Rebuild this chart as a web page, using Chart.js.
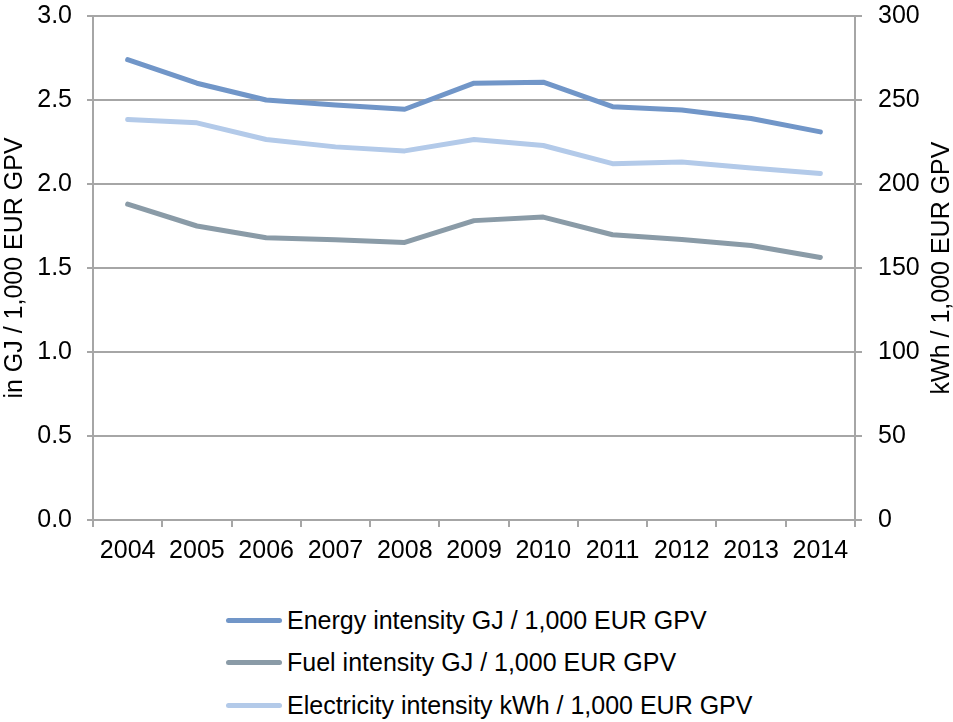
<!DOCTYPE html>
<html>
<head>
<meta charset="utf-8">
<script src="https://cdn.jsdelivr.net/npm/chart.js@4/dist/chart.umd.min.js"></script>
<style>
  html, body { margin: 0; padding: 0; background: #fff; }
  #wrap { position: relative; width: 953px; height: 722px; font-family: "Liberation Sans", Arial, sans-serif; }
  #box { position: absolute; left: 0; top: 0; width: 953px; height: 590px; }
  #legend { position: absolute; left: 226px; top: 599px; }
  .item { display: flex; align-items: center; height: 42.5px; font-size: 25px; color: #000; }
  .swatch { width: 56px; height: 5px; border-radius: 3px; margin-right: 5px; }
</style>
</head>
<body>
<div id="wrap">
  <div id="box"><canvas id="chart"></canvas></div>
  <div id="legend"></div>
</div>
<script>
// 2004-2014 intensities
const YEARS = ['2004', '2005', '2006', '2007', '2008', '2009', '2010', '2011', '2012', '2013', '2014'];
const ENERGY = [2.74, 2.60, 2.50, 2.47, 2.445, 2.60, 2.606, 2.46, 2.44, 2.39, 2.31];
const FUEL = [1.88, 1.75, 1.68, 1.668, 1.652, 1.782, 1.803, 1.698, 1.67, 1.634, 1.563];
const ELECTRICITY = [238.4, 236.4, 226.5, 222.1, 219.7, 226.5, 222.9, 212.1, 213.1, 209.5, 206.2];
const LEFT_TITLE = 'in GJ / 1,000 EUR GPV';
const RIGHT_TITLE = 'kWh / 1,000 EUR GPV';

const FONT = { family: '"Liberation Sans", Arial, sans-serif', size: 25 };
const GRID = '#a6a6a6';

const axisTitles = {
  id: 'axisTitles',
  afterDraw(chart) {
    const { ctx, chartArea } = chart;
    const mid = (chartArea.top + chartArea.bottom) / 2;
    ctx.save();
    ctx.font = `${FONT.size}px ${FONT.family}`;
    ctx.fillStyle = '#000';
    ctx.textAlign = 'center';
    ctx.textBaseline = 'middle';
    [[15, LEFT_TITLE], [942, RIGHT_TITLE]].forEach(([x, t]) => {
      ctx.save();
      ctx.translate(x, mid);
      ctx.rotate(-Math.PI / 2);
      ctx.fillText(t, 0, 0);
      ctx.restore();
    });
    ctx.restore();
  },
};

const line = (label, data, color, axis) => ({
  label, data, yAxisID: axis,
  borderColor: color, backgroundColor: color,
  borderWidth: 5, borderCapStyle: 'round', borderJoinStyle: 'round',
  pointRadius: 0, tension: 0,
});

// fixed side widths, no extra label overhang at top
const fitY = (w) => (s) => { s.width = w; s.paddingTop = 0; s.paddingBottom = 0; };

const chart = new Chart(document.getElementById('chart'), {
  type: 'line',
  data: {
    labels: YEARS,
    datasets: [
      line('Energy intensity GJ / 1,000 EUR GPV', ENERGY, '#7196c8', 'y'),
      line('Fuel intensity GJ / 1,000 EUR GPV', FUEL, '#8a9ba7', 'y'),
      line('Electricity intensity kWh / 1,000 EUR GPV', ELECTRICITY, '#b3cae9', 'y1'),
    ],
  },
  options: {
    responsive: true,
    maintainAspectRatio: false,
    animation: false,
    layout: { padding: { top: 16, left: 0, right: 0, bottom: 0 } },
    plugins: { legend: { display: false }, tooltip: { enabled: false } },
    scales: {
      x: {
        offset: true,
        grid: { offset: true, drawOnChartArea: false, color: GRID, lineWidth: 2, tickLength: 7 },
        border: { color: GRID, width: 2 },
        ticks: { font: FONT, color: '#000', padding: 9, maxRotation: 0 },
        afterFit(s) { s.height = 70; s.paddingLeft = 0; s.paddingRight = 0; },
      },
      y: {
        position: 'left', min: 0, max: 3,
        grid: { color: GRID, lineWidth: 2, tickLength: 6 },
        border: { color: GRID, width: 2 },
        ticks: { stepSize: 0.5, font: FONT, color: '#000', padding: 15, callback: (v) => v.toFixed(1) },
        afterFit: fitY(93),
      },
      y1: {
        position: 'right', min: 0, max: 300,
        grid: { drawOnChartArea: false, color: GRID, lineWidth: 2, tickLength: 7 },
        border: { color: GRID, width: 2 },
        ticks: { stepSize: 50, font: FONT, color: '#000', padding: 16 },
        afterFit: fitY(98),
      },
    },
  },
  plugins: [axisTitles],
});

document.getElementById('legend').innerHTML = chart.data.datasets
  .map((d) => `<div class="item"><span class="swatch" style="background:${d.borderColor}"></span>${d.label}</div>`)
  .join('');
</script>
</body>
</html>
